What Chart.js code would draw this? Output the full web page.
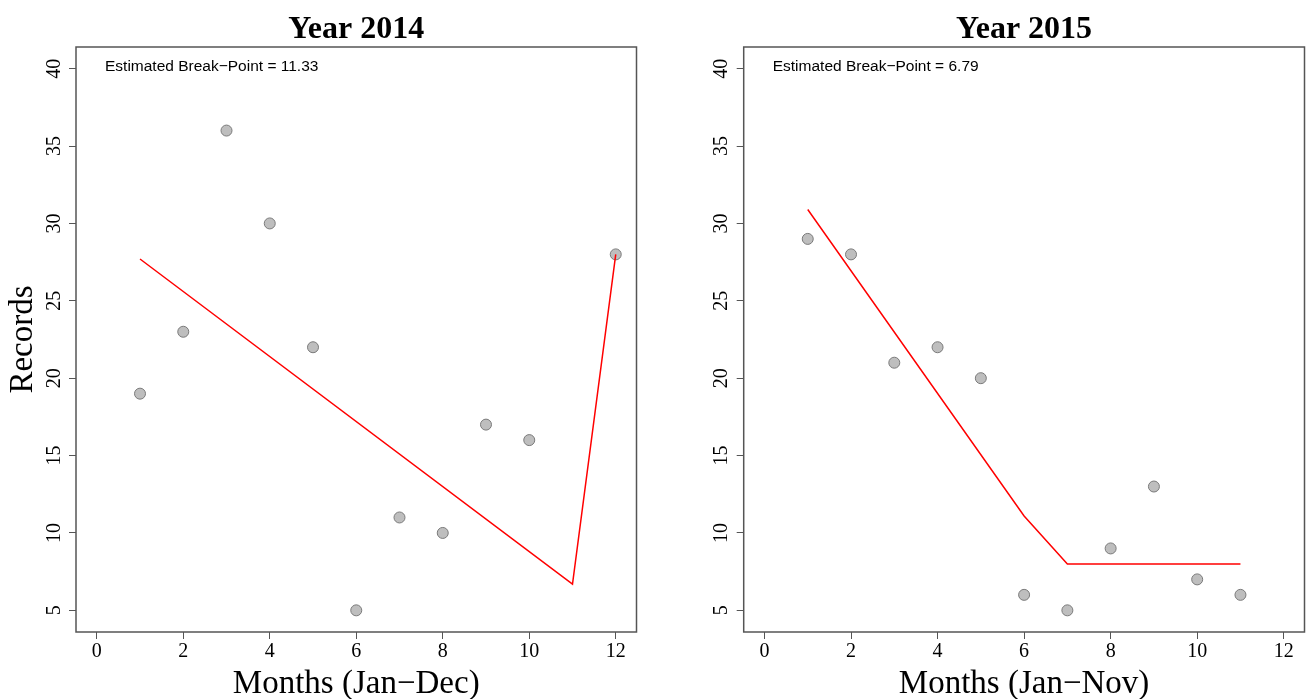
<!DOCTYPE html>
<html>
<head>
<meta charset="utf-8">
<script src="https://cdn.jsdelivr.net/npm/chart.js@4"></script>
<style>
	body { margin: 0; background: #fff; }
	.panel { position: absolute; top: 0; width: 653px; height: 699px; }
</style>
</head>
<body>
<div class="panel" style="left:0"><canvas id="chart2014" width="653" height="699"></canvas></div>
<div class="panel" style="left:653px"><canvas id="chart2015" width="653" height="699"></canvas></div>
<script>
// 2014 (month 11 is outside the visible range)
var months2014 = [1, 2, 3, 4, 5, 6, 7, 8, 9, 10, 12];
var records2014 = [19, 23, 36, 30, 22, 5, 11, 10, 17, 16, 28];
var fitMonths2014 = [1, 11, 12];
var fitValues2014 = [27.7, 6.7, 28];

// 2015
var months2015 = [1, 2, 3, 4, 5, 6, 7, 8, 9, 10, 11];
var records2015 = [29, 28, 21, 22, 20, 6, 5, 9, 13, 7, 6];
var fitMonths2015 = [1, 6, 7, 11];
var fitValues2015 = [30.9, 11.1, 8.0, 8.0];

var xTicks = [0, 2, 4, 6, 8, 10, 12];
var yTicks = [5, 10, 15, 20, 25, 30, 35, 40];

var boxColor = '#555555';

function toPoints(xs, ys) {
	var pts = [];
	for (var i = 0; i < xs.length; i++) {
		pts.push({x: xs[i], y: ys[i]});
	}
	return pts;
}

// box, titles, rotated y labels, axis titles, break-point note
var rPlotPlugin = {
	id: 'rPlot',
	afterDraw: function(chart) {
		var o = chart.options.plugins.rPlot;
		var ctx = chart.ctx;
		var a = chart.chartArea;
		var yScale = chart.scales.y;
		var cx = (a.left + a.right) / 2;

		ctx.save();
		ctx.strokeStyle = boxColor;
		ctx.lineWidth = 1.5;
		ctx.strokeRect(a.left, a.top, a.right - a.left, a.bottom - a.top);

		ctx.fillStyle = '#000';
		ctx.textAlign = 'center';
		ctx.textBaseline = 'alphabetic';
		ctx.font = 'bold 32px "Liberation Serif"';
		ctx.fillText(o.title, cx, 38);

		ctx.font = '33px "Liberation Serif"';
		ctx.fillText(o.xTitle, cx, 693);

		ctx.font = '20px "Liberation Serif"';
		yTicks.forEach(function(v) {
			var py = yScale.getPixelForValue(v);
			ctx.save();
			ctx.translate(a.left - 16.5, py);
			ctx.rotate(-Math.PI / 2);
			ctx.fillText(String(v), 0, 0);
			ctx.restore();
		});

		if (o.yTitle) {
			ctx.save();
			ctx.font = '33px "Liberation Serif"';
			ctx.translate(32, (a.top + a.bottom) / 2);
			ctx.rotate(-Math.PI / 2);
			ctx.fillText(o.yTitle, 0, 0);
			ctx.restore();
		}

		ctx.font = '15.5px "Liberation Sans"';
		ctx.textAlign = 'left';
		ctx.textBaseline = 'middle';
		ctx.fillText(o.note, a.left + 29, 67);
		ctx.restore();
	}
};

function makeChart(id, months, records, fitMonths, fitValues, opts) {
	var ctx = document.getElementById(id).getContext('2d');
	return new Chart(ctx, {
		type: 'scatter',
		data: {
			datasets: [{
				type: 'line',
				data: toPoints(fitMonths, fitValues),
				borderColor: '#ff0000',
				borderWidth: 1.5,
				pointRadius: 0,
				fill: false,
				tension: 0
			}, {
				data: toPoints(months, records),
				backgroundColor: '#bebebe',
				borderColor: '#7a7a7a',
				borderWidth: 1,
				pointRadius: 5.5
			}]
		},
		options: {
			responsive: false,
			animation: false,
			layout: {
				autoPadding: false,
				padding: { top: 47, right: opts.padRight, bottom: 0, left: 0 }
			},
			plugins: {
				legend: { display: false },
				tooltip: { enabled: false },
				rPlot: opts
			},
			scales: {
				x: {
					type: 'linear',
					min: -0.48,
					max: 12.48,
					afterBuildTicks: function(s) { s.ticks = xTicks.map(function(v) { return {value: v}; }); },
					afterFit: function(s) {
						s.height = 67;
						s.paddingLeft = 0;
						s.paddingRight = 0;
					},
					grid: { drawOnChartArea: false, drawTicks: true, tickLength: 7, color: boxColor, lineWidth: 1 },
					border: { display: false },
					ticks: { color: '#000', padding: 1, maxRotation: 0, font: { family: '"Liberation Serif"', size: 20 } }
				},
				y: {
					type: 'linear',
					min: 3.6,
					max: 41.4,
					afterBuildTicks: function(s) { s.ticks = yTicks.map(function(v) { return {value: v}; }); },
					afterFit: function(s) { s.width = opts.axisWidth; },
					grid: { drawOnChartArea: false, drawTicks: true, tickLength: 7, color: boxColor, lineWidth: 1 },
					border: { display: false },
					ticks: { display: false }
				}
			}
		},
		plugins: [rPlotPlugin]
	});
}

makeChart('chart2014', months2014, records2014, fitMonths2014, fitValues2014, {
	title: 'Year 2014',
	xTitle: 'Months (Jan\u2212Dec)',
	yTitle: 'Records',
	note: 'Estimated Break\u2212Point = 11.33',
	padRight: 16.5,
	axisWidth: 76
});

makeChart('chart2015', months2015, records2015, fitMonths2015, fitValues2015, {
	title: 'Year 2015',
	xTitle: 'Months (Jan\u2212Nov)',
	yTitle: '',
	note: 'Estimated Break\u2212Point = 6.79',
	padRight: 1.5,
	axisWidth: 90.7
});
</script>
</body>
</html>
